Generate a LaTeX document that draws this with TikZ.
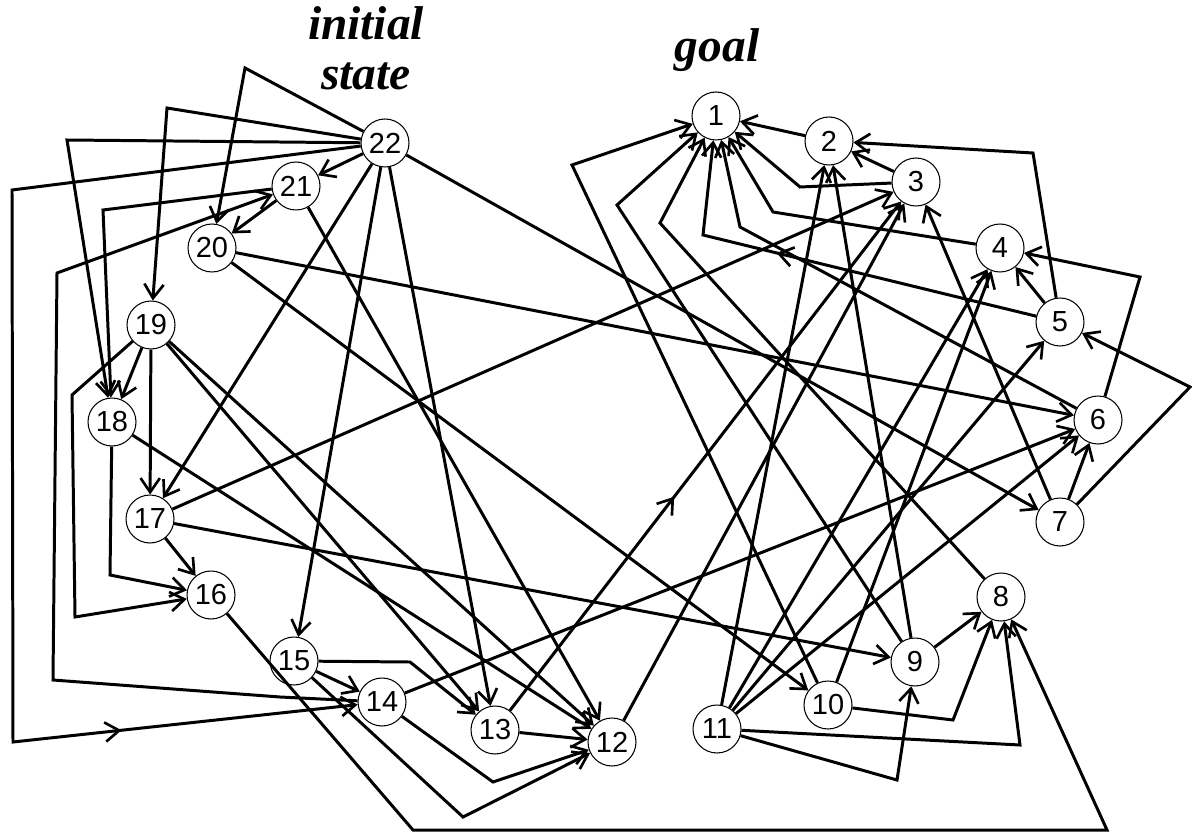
\documentclass[tikz,border=0pt]{standalone}
\usepackage{fontspec}
\setmainfont{Liberation Serif}
\newfontfamily\numfont{Liberation Sans}
\usetikzlibrary{arrows.meta,decorations.markings}
\begin{document}
\begin{tikzpicture}[x=0.02cm,y=-0.02cm,
  st/.style={circle,draw,line width=0.6pt,fill=white,minimum size=0.96cm,inner sep=0pt,
    font=\numfont\fontsize{16.5}{16.5}\selectfont},
  ed/.style={line width=1.7pt,line join=miter,
    -{Straight Barb[length=8pt,width=11pt,line width=1.5pt]}},
  mid/.style={postaction={decorate,decoration={markings,
    mark=at position #1 with {\arrow{Straight Barb[length=8pt,width=11pt,line width=1.5pt]}}}}},
  ttl/.style={font=\bfseries\itshape\fontsize{27}{27}\selectfont,inner sep=0pt,anchor=base}]
\path[fill=white] (0,0) rectangle (1192,834);
\useasboundingbox (0,0) rectangle (1192,834);

\node[ttl] (tinit) at (366,40) {initial};
\node[ttl] (tstate) at (366,90) {state};
\node[ttl] (tgoal) at (717,62) {goal};

\node[st] (n1) at (716,116) {1};
\node[st] (n2) at (829,141) {2};
\node[st] (n3) at (916,182) {3};
\node[st] (n4) at (1000,248) {4};
\node[st] (n5) at (1060,322) {5};
\node[st] (n6) at (1098,420) {6};
\node[st] (n7) at (1060,522) {7};
\node[st] (n8) at (1001,597) {8};
\node[st] (n9) at (915,662) {9};
\node[st] (n10) at (828,705) {10};
\node[st] (n11) at (717,729) {11};
\node[st] (n12) at (612,742) {12};
\node[st] (n13) at (495,730) {13};
\node[st] (n14) at (382,702) {14};
\node[st] (n15) at (294,661) {15};
\node[st] (n16) at (211,595) {16};
\node[st] (n17) at (150,519) {17};
\node[st] (n18) at (112,422) {18};
\node[st] (n19) at (151,325) {19};
\node[st] (n20) at (212,248) {20};
\node[st] (n21) at (296,186) {21};
\node[st] (n22) at (385,143) {22};

% from 22
\draw[ed] (n22) -- (245,68) -- (n20);
\draw[ed] (n22) -- (167,108) -- (n19);
\draw[ed] (n22) -- (67,140) -- (n18);
\draw[ed,mid=0.81] (n22) -- (12,190) -- (13,742) -- (n14);
\draw[ed] (n22) -- (n21);
\draw[ed] (n22) -- (n17);
\draw[ed] (n22) -- (n15);
\draw[ed] (n22) -- (n13);
\draw[ed] (n22) -- (n7);
% from 21
\draw[ed] (n21) -- (n20);
\draw[ed] (n21) -- (103,210) -- (n18);
\draw[ed] (n21) -- (n12);
% from 20
\draw[ed] (n20) -- (n6);
\draw[ed] (n20) -- (n10);
% from 19
\draw[ed] (n19) -- (n18);
\draw[ed] (n19) -- (n17);
\draw[ed] (n19) -- (72,395) -- (75,617) -- (n16);
\draw[ed] (n19) -- (n13);
\draw[ed] (n19) -- (n12);
% from 18
\draw[ed] (n18) -- (110,575) -- (n16);
\draw[ed] (n18) -- (n12);
% from 17
\draw[ed] (n17) -- (n16);
\draw[ed] (n17) -- (n9);
\draw[ed] (n17) -- (n3);
% from 16
\draw[ed] (n16) -- (413,830) -- (1107,830) -- (n8);
% from 15
\draw[ed] (n15) -- (n14);
\draw[ed] (n15) -- (410,662) -- (n13);
\draw[ed] (n15) -- (463,817) -- (n12);
% from 14
\draw[ed] (n14) -- (280,697) -- (53,680) -- (57,273) -- (n21);
\draw[ed] (n14) -- (493,782) -- (n12);
\draw[ed] (n14) -- (n6);
% from 13, 12
\draw[ed] (n13) -- (n12);
\draw[ed,mid=0.42] (n13) -- (n3);
\draw[ed] (n12) -- (n3);
% from 11
\draw[ed] (n11) -- (n2);
\draw[ed] (n11) -- (n4);
\draw[ed] (n11) -- (n5);
\draw[ed] (n11) -- (n6);
\draw[ed] (n11) -- (1020,745) -- (n8);
\draw[ed] (n11) -- (897,780) -- (n9);
% from 10
\draw[ed] (n10) -- (572,165) -- (n1);
\draw[ed] (n10) -- (n4);
\draw[ed] (n10) -- (953,720) -- (n8);
% from 9
\draw[ed] (n9) -- (617,205) -- (n1);
\draw[ed] (n9) -- (n2);
\draw[ed] (n9) -- (n8);
% from 8
\draw[ed] (n8) -- (660,223) -- (n1);
% from 7
\draw[ed] (n7) -- (n3);
\draw[ed] (n7) -- (n6);
\draw[ed] (n7) -- (1190,387) -- (n5);
% from 6
\draw[ed] (n6) -- (1140,277) -- (n4);
\draw[ed] (n6) -- (740,227) -- (n1);
% from 5
\draw[ed] (n5) -- (1033,153) -- (n2);
\draw[ed,mid=0.61] (n5) -- (703,235) -- (n1);
\draw[ed] (n5) -- (n4);
% from 4, 3, 2
\draw[ed] (n4) -- (773,212) -- (n1);
\draw[ed] (n3) -- (800,187) -- (n1);
\draw[ed] (n3) -- (n2);
\draw[ed] (n2) -- (n1);
\end{tikzpicture}
\end{document}
